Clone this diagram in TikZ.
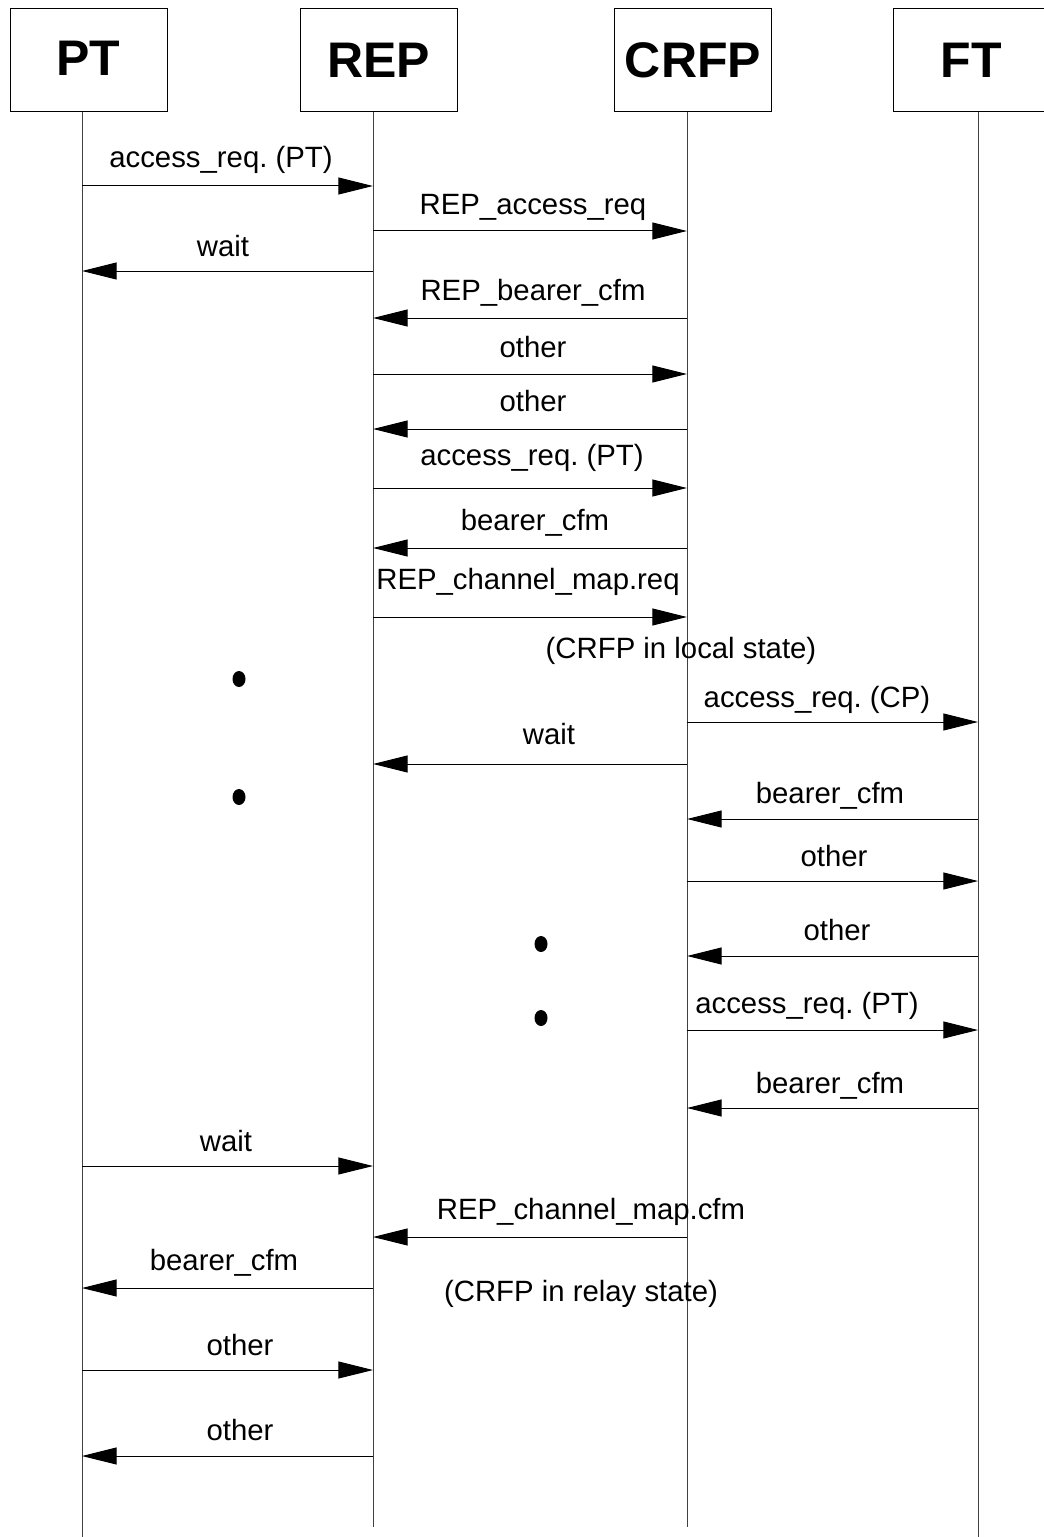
\documentclass[tikz,border=0pt]{standalone}
\usepackage{fontspec}
\setmainfont{Liberation Sans}
\usetikzlibrary{arrows.meta}
\frenchspacing
\begin{document}
\begin{tikzpicture}[x=0.75pt,y=-0.75pt,
    entity/.style={draw,line width=0.75pt,minimum width=117.75pt,minimum height=77.25pt,
      inner sep=0pt,font=\fontsize{37.5}{40}\selectfont\bfseries},
    lifeline/.style={line width=0.75pt,black!75},
    msg/.style={line width=0.75pt,-{Triangle[length=26pt,width=12.75pt]}},
    lbl/.style={anchor=base,inner sep=0pt,font=\fontsize{22}{26}\selectfont}]
    \useasboundingbox (0,0) rectangle (1044,1537);
    % Entities
    \node[entity] (PTbox) at (88.5,60.5) {\raisebox{3pt}{PT}};
    \node[entity] (REPbox) at (378.5,60.5) {\raisebox{1pt}{REP}};
    \node[entity] (CRFPbox) at (693,60.5) {\raisebox{1pt}{CRFP}};
    \node[entity] (FTbox) at (971.5,60.5) {\raisebox{1pt}{FT}};
    % Lifelines
    \coordinate (PT) at (82,112);
    \coordinate (REP) at (373,112);
    \coordinate (CRFP) at (687,112);
    \coordinate (FT) at (978,112);
    \coordinate (PTend) at (82,1537);
    \coordinate (REPend) at (373,1527);
    \coordinate (CRFPend) at (687,1527);
    \coordinate (FTend) at (978,1537);
    \draw[lifeline] (PT) -- (PTend);
    \draw[lifeline] (REP) -- (REPend);
    \draw[lifeline] (CRFP) -- (CRFPend);
    \draw[lifeline] (FT) -- (FTend);
    % Messages: from/to/line y/label x/label baseline/text
    \foreach \s/\t/\y/\lx/\ly/\txt [count=\i] in {
        PT/REP/186/221/168/access\_req. (PT),
        REP/CRFP/231/533/215/REP\_access\_req,
        REP/PT/271/223/257/wait,
        CRFP/REP/318/533/300/REP\_bearer\_cfm,
        REP/CRFP/374/533/357/other,
        CRFP/REP/429/533/411/other,
        REP/CRFP/488/532/465/access\_req. (PT),
        CRFP/REP/548/535/530/bearer\_cfm,
        REP/CRFP/617/528/589/REP\_channel\_map.req,
        CRFP/FT/722/817/707/access\_req. (CP),
        CRFP/REP/764/549/744/wait,
        FT/CRFP/819/830/803/bearer\_cfm,
        CRFP/FT/881/834/866/other,
        FT/CRFP/956/837/940/other,
        CRFP/FT/1030/807/1013/access\_req. (PT),
        FT/CRFP/1108/830/1093/bearer\_cfm,
        PT/REP/1166/226/1151/wait,
        CRFP/REP/1237/591/1219/REP\_channel\_map.cfm,
        REP/PT/1288/224/1270/bearer\_cfm,
        PT/REP/1370/240/1355/other,
        REP/PT/1456/240/1440/other}
    {
        \draw[msg] (\s |- 0,\y) -- (\t |- 0,\y);
        \node[lbl] (m\i) at (\lx,\ly) {\txt};
    }
    % State notes
    \node[lbl] (localstate) at (681,658) {(CRFP in local state)};
    \node[lbl] (relaystate) at (581,1301) {(CRFP in relay state)};
    % Dots
    \fill (239,679) ellipse [x radius=6.5,y radius=8];
    \fill (239,797) ellipse [x radius=6.5,y radius=8];
    \fill (541,944) ellipse [x radius=6.5,y radius=8];
    \fill (541,1018) ellipse [x radius=6.5,y radius=8];
\end{tikzpicture}
\end{document}
